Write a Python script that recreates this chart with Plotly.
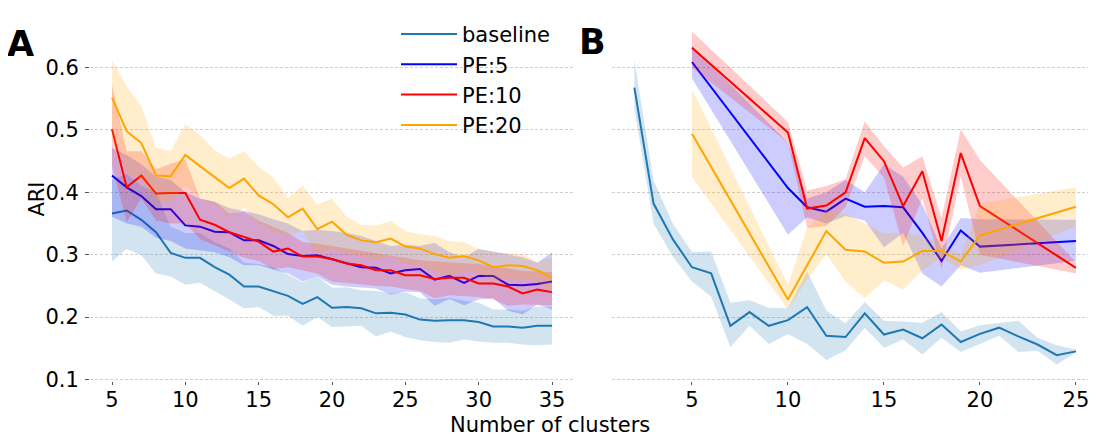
import plotly.graph_objects as go

# ---------------- data ----------------
n_A = list(range(5, 36))
baseline_A = [0.366, 0.371, 0.356, 0.336, 0.303, 0.295, 0.295, 0.280, 0.268, 0.249, 0.249, 0.242, 0.234, 0.221, 0.232, 0.215,
              0.216, 0.214, 0.206, 0.207, 0.204, 0.196, 0.194, 0.195, 0.195, 0.192, 0.185, 0.185, 0.183, 0.186, 0.186]
baseline_A_lo = [0.289, 0.309, 0.299, 0.270, 0.265, 0.252, 0.255, 0.242, 0.228, 0.214, 0.216, 0.202, 0.202, 0.186, 0.200, 0.184,
                 0.185, 0.186, 0.169, 0.177, 0.168, 0.163, 0.160, 0.159, 0.164, 0.161, 0.159, 0.159, 0.156, 0.155, 0.156]
baseline_A_hi = [0.420, 0.430, 0.410, 0.400, 0.345, 0.335, 0.335, 0.320, 0.310, 0.287, 0.285, 0.280, 0.268, 0.256, 0.265, 0.247,
                 0.248, 0.243, 0.242, 0.238, 0.240, 0.230, 0.228, 0.231, 0.226, 0.223, 0.212, 0.212, 0.210, 0.217, 0.216]

pe5_A = [0.427, 0.408, 0.394, 0.373, 0.373, 0.347, 0.345, 0.337, 0.336, 0.323, 0.323, 0.314, 0.301, 0.298, 0.299, 0.293,
         0.286, 0.280, 0.279, 0.270, 0.275, 0.277, 0.260, 0.266, 0.255, 0.266, 0.266, 0.252, 0.251, 0.253, 0.257]
pe5_A_hi = [0.471, 0.460, 0.445, 0.425, 0.420, 0.400, 0.390, 0.385, 0.375, 0.370, 0.365, 0.357, 0.350, 0.338, 0.340, 0.338,
            0.335, 0.330, 0.322, 0.314, 0.316, 0.314, 0.319, 0.304, 0.296, 0.309, 0.305, 0.301, 0.296, 0.287, 0.304]
pe5_A_lo = [0.361, 0.350, 0.345, 0.327, 0.322, 0.310, 0.307, 0.304, 0.296, 0.283, 0.283, 0.276, 0.270, 0.257, 0.265, 0.252,
            0.249, 0.247, 0.246, 0.236, 0.241, 0.240, 0.218, 0.229, 0.219, 0.228, 0.230, 0.210, 0.204, 0.220, 0.212]

pe10_A = [0.501, 0.408, 0.427, 0.398, 0.399, 0.399, 0.356, 0.348, 0.336, 0.328, 0.321, 0.305, 0.310, 0.297, 0.297, 0.293,
          0.286, 0.283, 0.275, 0.275, 0.267, 0.267, 0.261, 0.263, 0.263, 0.254, 0.254, 0.249, 0.238, 0.244, 0.240]
pe10_A_hi = [0.573, 0.466, 0.466, 0.437, 0.446, 0.453, 0.390, 0.385, 0.366, 0.369, 0.355, 0.345, 0.335, 0.320, 0.318, 0.314,
             0.310, 0.306, 0.302, 0.298, 0.295, 0.291, 0.289, 0.288, 0.287, 0.285, 0.282, 0.278, 0.274, 0.273, 0.272]
pe10_A_lo = [0.442, 0.352, 0.390, 0.355, 0.350, 0.350, 0.325, 0.315, 0.305, 0.295, 0.290, 0.277, 0.280, 0.275, 0.270, 0.257,
             0.255, 0.252, 0.250, 0.249, 0.245, 0.242, 0.230, 0.235, 0.234, 0.232, 0.228, 0.218, 0.220, 0.220, 0.219]

pe20_A = [0.552, 0.498, 0.479, 0.427, 0.426, 0.460, 0.442, 0.424, 0.407, 0.422, 0.395, 0.381, 0.360, 0.374, 0.341, 0.353,
          0.332, 0.323, 0.320, 0.326, 0.313, 0.310, 0.301, 0.295, 0.298, 0.291, 0.280, 0.283, 0.282, 0.275, 0.263]
pe20_A_hi = [0.612, 0.570, 0.539, 0.472, 0.466, 0.509, 0.492, 0.467, 0.454, 0.466, 0.441, 0.424, 0.391, 0.411, 0.380, 0.390,
             0.361, 0.348, 0.347, 0.354, 0.338, 0.333, 0.330, 0.322, 0.320, 0.309, 0.304, 0.303, 0.301, 0.288, 0.296]
pe20_A_lo = [0.490, 0.430, 0.420, 0.385, 0.385, 0.410, 0.392, 0.380, 0.360, 0.375, 0.350, 0.338, 0.330, 0.338, 0.300, 0.310,
             0.302, 0.297, 0.292, 0.297, 0.285, 0.283, 0.273, 0.266, 0.275, 0.270, 0.258, 0.260, 0.262, 0.258, 0.240]

n_B_base = list(range(2, 26))
baseline_B = [0.568, 0.382, 0.325, 0.280, 0.270, 0.186, 0.208, 0.186, 0.195, 0.216, 0.170, 0.168, 0.206, 0.172, 0.180, 0.166,
              0.188, 0.160, 0.173, 0.183, 0.169, 0.156, 0.139, 0.145]
baseline_B_hi = [0.612, 0.419, 0.350, 0.304, 0.305, 0.223, 0.227, 0.215, 0.214, 0.273, 0.210, 0.190, 0.224, 0.194, 0.193, 0.191,
                 0.208, 0.177, 0.187, 0.191, 0.194, 0.167, 0.155, 0.148]
baseline_B_lo = [0.534, 0.350, 0.297, 0.257, 0.233, 0.152, 0.186, 0.157, 0.173, 0.157, 0.131, 0.147, 0.183, 0.151, 0.164, 0.140,
                 0.167, 0.144, 0.157, 0.170, 0.144, 0.146, 0.124, 0.143]

n_B = [5, 10, 11, 12, 13, 14, 15, 16, 17, 18, 19, 20, 25]
pe5_B = [0.609, 0.407, 0.376, 0.369, 0.390, 0.377, 0.378, 0.376, 0.335, 0.290, 0.339, 0.313, 0.322]
pe5_B_hi = [0.635, 0.480, 0.390, 0.400, 0.420, 0.400, 0.445, 0.425, 0.380, 0.310, 0.359, 0.357, 0.356]
pe5_B_lo = [0.583, 0.332, 0.360, 0.350, 0.362, 0.355, 0.312, 0.335, 0.270, 0.249, 0.283, 0.271, 0.290]

pe10_B = [0.632, 0.496, 0.374, 0.379, 0.400, 0.487, 0.450, 0.378, 0.434, 0.322, 0.463, 0.378, 0.279]
pe10_B_hi = [0.658, 0.513, 0.403, 0.410, 0.421, 0.514, 0.474, 0.440, 0.458, 0.359, 0.501, 0.452, 0.288]
pe10_B_lo = [0.600, 0.480, 0.343, 0.346, 0.376, 0.458, 0.424, 0.314, 0.390, 0.278, 0.426, 0.300, 0.270]

pe20_B = [0.494, 0.228, 0.283, 0.338, 0.308, 0.305, 0.287, 0.289, 0.306, 0.306, 0.289, 0.331, 0.377]
pe20_B_hi = [0.565, 0.252, 0.343, 0.372, 0.366, 0.350, 0.335, 0.335, 0.330, 0.317, 0.300, 0.382, 0.408]
pe20_B_lo = [0.425, 0.212, 0.260, 0.301, 0.257, 0.230, 0.259, 0.244, 0.275, 0.295, 0.276, 0.283, 0.346]

y_ticks = [0.1, 0.2, 0.3, 0.4, 0.5, 0.6]
y_ticktext = ["0.1", "0.2", "0.3", "0.4", "0.5", "0.6"]
x_ticks_A = [5, 10, 15, 20, 25, 30, 35]
x_ticks_B = [5, 10, 15, 20, 25]

names = ["baseline", "PE:5", "PE:10", "PE:20"]
colors = ["#1f77b4", "#0000ff", "#ff0000", "#ffa500"]
fills = ["rgba(31,119,180,0.2)", "rgba(0,0,255,0.2)", "rgba(255,0,0,0.2)", "rgba(255,165,0,0.2)"]

# ---------------- figure ----------------
W, H = 1096, 444
fig = go.Figure()

panelA = [(n_A, baseline_A, baseline_A_lo, baseline_A_hi),
          (n_A, pe5_A, pe5_A_lo, pe5_A_hi),
          (n_A, pe10_A, pe10_A_lo, pe10_A_hi),
          (n_A, pe20_A, pe20_A_lo, pe20_A_hi)]
panelB = [(n_B_base, baseline_B, baseline_B_lo, baseline_B_hi),
          (n_B, pe5_B, pe5_B_lo, pe5_B_hi),
          (n_B, pe10_B, pe10_B_lo, pe10_B_hi),
          (n_B, pe20_B, pe20_B_lo, pe20_B_hi)]

for panel, (xa, ya) in [(panelA, ("x", "y")), (panelB, ("x2", "y2"))]:
    for i, (xs, m, lo, hi) in enumerate(panel):
        fig.add_trace(go.Scatter(
            x=list(xs) + list(xs)[::-1], y=list(hi) + list(lo)[::-1],
            fill="toself", fillcolor=fills[i], line=dict(width=0),
            mode="lines", hoverinfo="skip", showlegend=False,
            xaxis=xa, yaxis=ya))
        fig.add_trace(go.Scatter(
            x=xs, y=m, mode="lines", name=names[i],
            line=dict(color=colors[i], width=2),
            showlegend=(xa == "x"), xaxis=xa, yaxis=ya))

FS = 21
font = dict(family="DejaVu Sans", size=FS, color="black")

def px_x(p):
    return p / W

def px_y(p):
    return (H - p) / H

ydom = [px_y(382), px_y(7)]
yrange = [0.1 - 2 / 638, 0.1 + 373 / 638]

fig.update_layout(
    width=W, height=H,
    margin=dict(l=0, r=0, t=0, b=0),
    paper_bgcolor="white", plot_bgcolor="white",
    font=font,
    showlegend=True,
    legend=dict(x=px_x(388), y=px_y(6), xanchor="left", yanchor="top",
                font=dict(family="DejaVu Sans", size=FS, color="black"),
                itemwidth=56,
                bgcolor="rgba(0,0,0,0)", tracegroupgap=0),
    xaxis=dict(domain=[px_x(82), px_x(566)], range=[3.5, 36.5],
               tickvals=x_ticks_A, ticks="outside", ticklen=3, tickcolor="#555",
               ticklabelstandoff=-4,
               showgrid=False, showline=False, zeroline=False,
               tickfont=font, anchor="y"),
    yaxis=dict(domain=ydom, range=yrange, tickvals=y_ticks, ticktext=y_ticktext,
               ticks="outside", ticklen=4, tickcolor="#555", ticklabelstandoff=2,
               showgrid=True, gridcolor="#cfcfcf", griddash="3px,2px", gridwidth=1,
               showline=False, zeroline=False, tickfont=font, anchor="x"),
    xaxis2=dict(domain=[px_x(604.3), px_x(1090)], range=[0.85, 26.15],
                tickvals=x_ticks_B, ticks="outside", ticklen=3, tickcolor="#555",
                ticklabelstandoff=-4,
                showgrid=False, showline=False, zeroline=False,
                tickfont=font, anchor="y2"),
    yaxis2=dict(domain=ydom, range=yrange, tickvals=y_ticks,
                showticklabels=False, ticks="",
                showgrid=True, gridcolor="#cfcfcf", griddash="3px,2px", gridwidth=1,
                showline=False, zeroline=False, anchor="x2"),
)

fig.add_annotation(text="ARI", xref="paper", yref="paper", x=px_x(29), y=px_y(196),
                   textangle=-90, showarrow=False, font=font, xanchor="center", yanchor="middle")
fig.add_annotation(text="Number of clusters", xref="paper", yref="paper", x=px_x(542), y=px_y(427),
                   showarrow=False, font=font, xanchor="center", yanchor="middle")
fig.add_annotation(text="<b>A</b>", xref="paper", yref="paper", x=px_x(-3), y=px_y(37),
                   showarrow=False, xanchor="left", yanchor="middle",
                   font=dict(family="DejaVu Sans", size=35, color="black"))
fig.add_annotation(text="<b>B</b>", xref="paper", yref="paper", x=px_x(569), y=px_y(35),
                   showarrow=False, xanchor="left", yanchor="middle",
                   font=dict(family="DejaVu Sans", size=35, color="black"))

fig.write_html("out.html")
